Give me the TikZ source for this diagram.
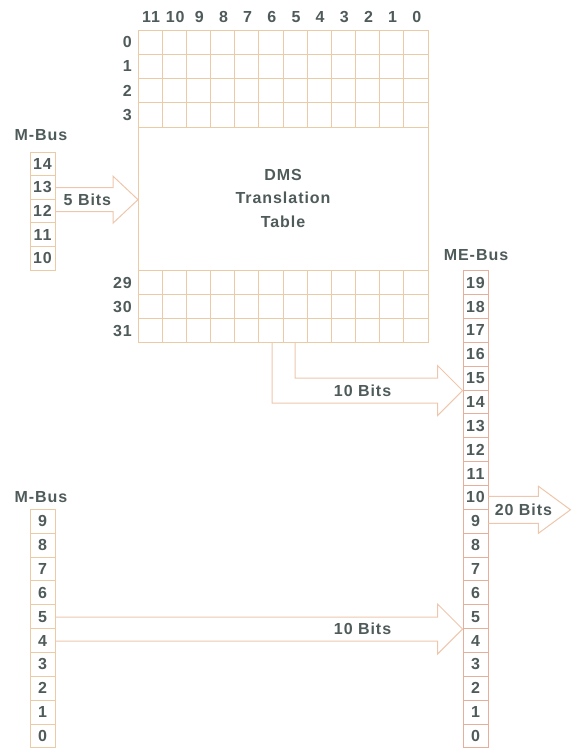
\documentclass[tikz,border=0pt]{standalone}
\usepackage{fontspec}
\setmainfont{Liberation Sans}[LetterSpace=6]
\usetikzlibrary{calc, positioning}
\definecolor{gridtan}{HTML}{EBCBA5}
\definecolor{busred}{HTML}{E8AE9C}
\definecolor{arrowpeach}{HTML}{EEC6AC}
\definecolor{inkgrey}{HTML}{4F5B5A}
\tikzset{
  lbl/.style={font=\fontsize{16}{19}\selectfont\bfseries, text=inkgrey, inner sep=1pt},
  busbit/.style={rectangle, draw=gridtan, line width=0.9pt, minimum width=25pt,
    minimum height=23.6pt, inner sep=0pt, lbl},
  mebit/.style={busbit, draw=busred, minimum height=23.85pt},
  gridline/.style={draw=gridtan, line width=0.9pt},
  bitarrow/.style={draw=arrowpeach, line width=1pt, line join=miter},
}

\begin{document}
\begin{tikzpicture}[x=1pt, y=-1pt]
\useasboundingbox (0,0) rectangle (572,748);
% translation table
\node[draw=gridtan, line width=0.9pt, minimum width=290pt, minimum height=312pt,
  anchor=north west, inner sep=0pt] (table) at (138,30) {};
\foreach \k in {1,...,11} {
  \draw[gridline] ($(table.north west)+(24.1667*\k,0)$) -- ++(0,97);
  \draw[gridline] ($(table.south west)+(24.1667*\k,0)$) -- ++(0,-72);
}
\foreach \k in {1,...,4} \draw[gridline] ($(table.north west)+(0,24.25*\k)$) -- ++(290,0);
\foreach \k in {1,...,3} \draw[gridline] ($(table.south west)+(0,-24*\k)$) -- ++(290,0);
\foreach \c in {0,...,11} \node[lbl] (col\c) at ($(table.north east)+(-12.08-24.1667*\c,-13)$) {\c};
\foreach \r in {0,...,3} \node[lbl, anchor=east] (row\r) at ($(table.north west)+(-5,12.125+24.25*\r)$) {\r};
\foreach \r/\k in {29/2,30/1,31/0} \node[lbl, anchor=east] (row\r) at ($(table.south west)+(-5,-12-24*\k)$) {\r};
\node[lbl, align=center, font=\fontsize{16}{23.5}\selectfont\bfseries] (dms) at (283,198) {DMS\\Translation\\Table};

% buses
\node[lbl] (mbusa) at (41,135) {M-Bus};
\foreach \b [count=\i from 0] in {14,13,12,11,10} \node[busbit] (ma\b) at (42.5,163.8+23.6*\i) {\b};
\node[lbl] (mbusb) at (41,497) {M-Bus};
\foreach \b in {0,...,9} \node[busbit, minimum height=23.85pt] (mb\b) at (42.5,735.9-23.85*\b) {\b};
\node[lbl] (mebus) at (476,255) {ME-Bus};
\foreach \b in {0,...,19} \node[mebit] (me\b) at (475.5,735.9-23.85*\b) {\b};

% 5 bits
\coordinate (tipa) at (table.west |- ma13.south);
\draw[bitarrow] ($(ma13.south east)+(0,-12)$) -- ($(tipa)+(-25,-12)$) -- ++(0,-11.5) -- (tipa)
  -- ($(tipa)+(-25,23.5)$) -- ++(0,-11.5) -- ($(ma13.south east)+(0,12)$);
\node[lbl] (fivebits) at ($(ma13.south east)+(32,0)$) {5 Bits};

% 10 bits from table
\coordinate (tipb) at (me15.south west);
\draw[bitarrow] ($(table.south west)+(134,0)$) |- ($(tipb)+(-25,12.5)$) -- ++(0,12.5) -- (tipb)
  -- ($(tipb)+(-25,-25)$) -- ++(0,12.5) -| ($(table.south west)+(157,0)$);
\node[lbl] (tenbitsa) at ($(tipb)+(-100,0)$) {10 Bits};

% 10 bits from M-Bus
\coordinate (tipc) at (me5.south west);
\draw[bitarrow] ($(mb5.south east)+(0,-12)$) -- ($(tipc)+(-25,-12)$) -- ++(0,-13) -- (tipc)
  -- ($(tipc)+(-25,25)$) -- ++(0,-13) -- ($(mb5.south east)+(0,12)$);
\node[lbl] (tenbitsb) at ($(tipc)+(-100,0)$) {10 Bits};

% 20 bits out
\coordinate (tipd) at ($(me10.south east)+(82,0)$);
\draw[bitarrow] ($(me10.south east)+(0,-13.5)$) -- ($(tipd)+(-32,-13.5)$) -- ++(0,-10) -- (tipd)
  -- ($(tipd)+(-32,23.5)$) -- ++(0,-10) -- ($(me10.south east)+(0,13.5)$);
\node[lbl] (twentybits) at ($(me10.south east)+(35,0)$) {20 Bits};
\end{tikzpicture}
\end{document}
